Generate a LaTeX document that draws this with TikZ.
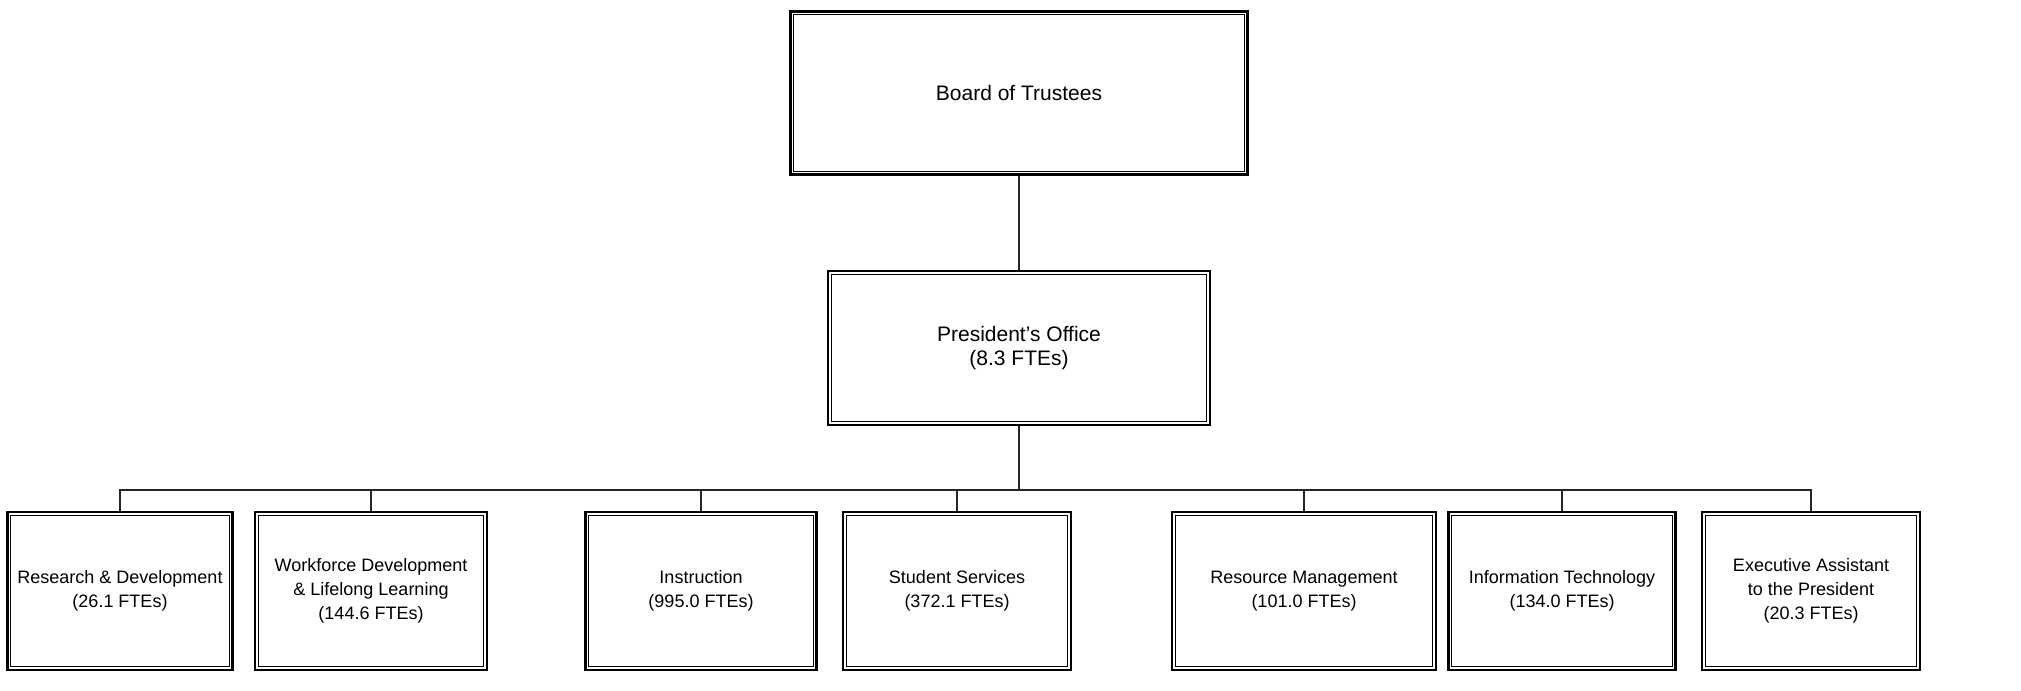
\documentclass[tikz,border=0pt]{standalone}
\usepackage{fontspec}
\setmainfont{Liberation Sans}
\usetikzlibrary{positioning}

\tikzset{
  unitbox/.style={draw, line width=1.3pt, align=center, inner sep=2pt,
    append after command={\pgfextra{\draw[line width=0.6pt]
      ([shift={(2.3pt,-2.3pt)}]\tikzlastnode.north west) rectangle
      ([shift={(-2.3pt,2.3pt)}]\tikzlastnode.south east);}}},
  topbox/.style={unitbox, font=\fontsize{10.5}{12}\selectfont},
  deptbox/.style={unitbox, minimum height=79pt, font=\fontsize{9}{12}\selectfont},
  link/.style={line width=0.55pt, black!85},
}

\begin{document}
\begin{tikzpicture}[x=0.5pt, y=-0.5pt]
  \useasboundingbox (0,0) rectangle (2021,690);
  \coordinate (bus) at (1019,490);
  \node[topbox, minimum width=228.5pt, minimum height=81.5pt] (board) at (1019,93) {Board of Trustees};
  \node[topbox, minimum width=191pt, minimum height=77pt] (pres) at (1019,348) {President's Office\\(8.3 FTEs)};
  \node[deptbox, minimum width=112.5pt] (rd) at (120,591) {Research \& Development\\(26.1 FTEs)};
  \node[deptbox, minimum width=116pt] (wf) at (371,591) {Workforce Development\\\& Lifelong Learning\\(144.6 FTEs)};
  \node[deptbox, minimum width=115.5pt] (ins) at (701,591) {Instruction\\(995.0 FTEs)};
  \node[deptbox, minimum width=114pt] (ss) at (957,591) {Student Services\\(372.1 FTEs)};
  \node[deptbox, minimum width=132pt] (rm) at (1304,591) {Resource Management\\(101.0 FTEs)};
  \node[deptbox, minimum width=113.5pt] (it) at (1562,591) {Information Technology\\(134.0 FTEs)};
  \node[deptbox, minimum width=109pt] (ea) at (1811,591) {Executive Assistant\\to the President\\(20.3 FTEs)};
  \draw[link] (board) -- (pres);
  \draw[link] (pres) -- (bus);
  \draw[link] (rd.north) -- (rd.north |- bus) -- (ea.north |- bus) -- (ea.north);
  \foreach \d in {wf, ins, ss, rm, it}
    \draw[link] (\d.north) -- (\d.north |- bus);
\end{tikzpicture}
\end{document}
